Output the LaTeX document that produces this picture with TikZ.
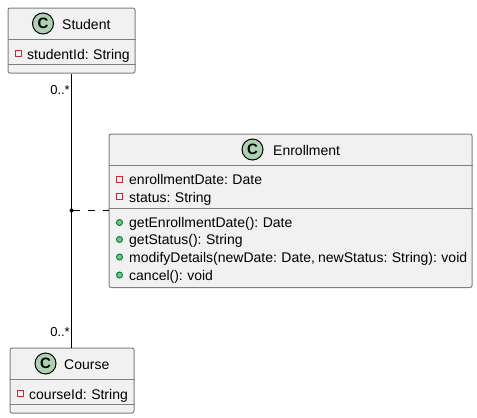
\documentclass[tikz,border=0pt]{standalone}
\usepackage{fontspec}
\setmainfont[WordSpace=0.82]{Liberation Sans}
\definecolor{boxfill}{HTML}{F1F1F1}
\definecolor{boxline}{HTML}{7F7F7F}
\definecolor{spotfill}{HTML}{ADD1B2}
\definecolor{privred}{HTML}{C82930}
\definecolor{pubgreen}{HTML}{84BE84}
\definecolor{publine}{HTML}{038048}
\tikzset{
  x=1pt,y=-1pt,
  classbox/.style={draw=boxline,fill=boxfill,line width=1pt,rounded corners=2pt,inner sep=0pt,anchor=north west},
  sepline/.style={draw=boxline,line width=1pt},
  spot/.style={circle,draw=black,fill=spotfill,line width=1pt,minimum size=21pt,inner sep=0pt,font=\fontsize{15}{15}\selectfont\bfseries},
  title/.style={inner sep=0pt,anchor=base west,font=\fontsize{14}{14}\selectfont},
  member/.style={inner sep=0pt,anchor=base west,font=\fontsize{14}{14}\selectfont},
  card/.style={inner sep=0pt,anchor=base east,font=\fontsize{13}{13}\selectfont},
  priv/.style={rectangle,draw=privred,line width=1pt,minimum size=6pt,inner sep=0pt,fill=none},
  pub/.style={circle,draw=publine,fill=pubgreen,line width=1pt,minimum size=6pt,inner sep=0pt},
  assoc/.style={draw=black,line width=1pt},
  assocdash/.style={draw=black,line width=1pt,dash pattern=on 7pt off 8pt},
}
\begin{document}
\begin{tikzpicture}
\useasboundingbox (0,0) rectangle (477,418);
% Classes
\node[classbox,minimum width=127pt,minimum height=65pt] (student) at (7.5,7.5) {};
\node[classbox,minimum width=124pt,minimum height=65pt] (course) at (9.5,347.5) {};
\node[classbox,minimum width=363pt,minimum height=153.5pt] (enroll) at (108.5,133.5) {};
% Associations
\coordinate (mid) at (71.5,210.5);
\draw[assoc] (student.south -| mid) -- (course.north -| mid);
\draw[assocdash] (mid) ++(1,0) -- (enroll.west |- mid);
\fill (mid) circle (2pt);
\node[card] (c1) at (70,94) {0..*};
\node[card] (c2) at (70,336) {0..*};
% Student
\draw[sepline] (student.west |- 0,39.5) -- (student.east |- 0,39.5);
\draw[sepline] (student.west |- 0,64.5) -- (student.east |- 0,64.5);
\node[spot] (s1) at (43,23.5) {C};
\node[title] (s2) at (62,29) {Student};
\node[priv] (s3) at (18.5,53.5) {};
\node[member] (s4) at (27,59) {studentId: String};
% Course
\draw[sepline] (course.west |- 0,379.5) -- (course.east |- 0,379.5);
\draw[sepline] (course.west |- 0,404.5) -- (course.east |- 0,404.5);
\node[spot] (k1) at (45.5,363.5) {C};
\node[title] (k2) at (64,369) {Course};
\node[priv] (k3) at (20.5,393.5) {};
\node[member] (k4) at (29,399) {courseId: String};
% Enrollment
\draw[sepline] (enroll.west |- 0,165.5) -- (enroll.east |- 0,165.5);
\draw[sepline] (enroll.west |- 0,208.5) -- (enroll.east |- 0,208.5);
\node[spot] (e1) at (252.5,149.5) {C};
\node[title] (e2) at (273,155) {Enrollment};
\node[priv] (e3) at (119.5,179.5) {};
\node[member] (e4) at (129,184) {enrollmentDate: Date};
\node[priv] (e5) at (119.5,196.5) {};
\node[member] (e6) at (129,202) {status: String};
\node[pub] (e7) at (119.5,222.5) {};
\node[member] (e8) at (129,227) {getEnrollmentDate(): Date};
\node[pub] (e9) at (119.5,239.5) {};
\node[member] (e10) at (129,244) {getStatus(): String};
\node[pub] (e11) at (119.5,257) {};
\node[member] (e12) at (129,262) {modifyDetails(newDate: Date, newStatus: String): void};
\node[pub] (e13) at (119.5,275) {};
\node[member] (e14) at (129,280) {cancel(): void};
\end{tikzpicture}
\end{document}
